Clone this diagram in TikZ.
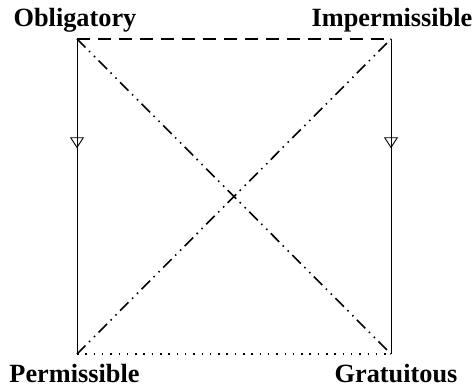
\documentclass[tikz,border=0pt]{standalone}
\usepackage{fontspec}
\setmainfont{Liberation Serif}
\usetikzlibrary{arrows.meta,decorations.markings}
\begin{document}
\begin{tikzpicture}[x=1pt,y=-1pt,
  lbl/.style={anchor=base,inner sep=0pt,font=\fontsize{26.3}{30}\selectfont\bfseries},
  imp/.style={draw,line width=0.9pt,postaction={decorate},
    decoration={markings,mark=at position 0.347 with {\arrow{Triangle[open,width=14pt,length=11pt,line width=0.9pt]}}}},
  dashdotdot/.style={line width=1.6pt,dash pattern=on 12pt off 5pt on 1.5pt off 5.5pt on 1.5pt off 5pt},
  dashline/.style={line width=1.6pt,dash pattern=on 13pt off 8pt},
  dotline/.style={line width=1.6pt,dash pattern=on 1.5pt off 6.8pt}
]
\useasboundingbox (0,0) rectangle (473,387);
\coordinate (O) at (77,39);
\coordinate (I) at (391,39);
\coordinate (P) at (77,354);
\coordinate (G) at (391,354);
\node[lbl] (Ol) at (75,27) {Obligatory};
\node[lbl] (Il) at (392,27) {Impermissible};
\node[lbl] (Pl) at (74.5,382) {Permissible};
\node[lbl] (Gl) at (396,382) {Gratuitous};
\draw[imp] (O) -- (P);
\draw[imp] (I) -- (G);
\draw[dashline] (O) -- (I);
\draw[dotline] (P) -- (G);
\draw[dashdotdot] (O) -- (G);
\draw[dashdotdot] (P) -- (I);
\end{tikzpicture}
\end{document}
